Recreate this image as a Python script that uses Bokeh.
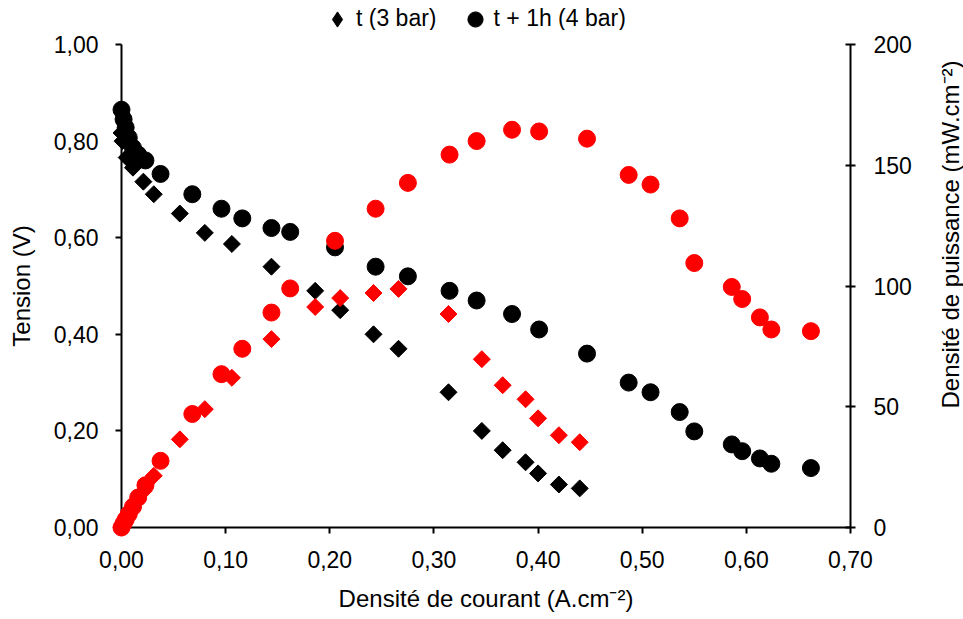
import math
from bokeh.plotting import figure
from bokeh.layouts import column, row
from bokeh.models import (Range1d, LinearAxis, FixedTicker, CustomJSTickFormatter,
                          Legend, LegendItem, Label)
from bokeh.embed import file_html
from bokeh.resources import INLINE

# ---- data ----
# t (3 bar)
current_3bar = [0.000, 0.001, 0.005, 0.011, 0.021, 0.031, 0.056, 0.080, 0.106, 0.144,
                0.186, 0.210, 0.242, 0.266, 0.314, 0.346, 0.366, 0.388, 0.400, 0.420, 0.440]
tension_3bar = [0.817, 0.800, 0.766, 0.745, 0.716, 0.690, 0.650, 0.610, 0.587, 0.540,
                0.490, 0.450, 0.400, 0.370, 0.280, 0.200, 0.160, 0.135, 0.112, 0.089, 0.081]
power_3bar = [0.0, 0.8, 3.8, 8.2, 15.0, 21.4, 36.5, 49.0, 62.0, 78.0,
              91.3, 95.0, 97.1, 98.8, 88.4, 69.7, 58.9, 53.1, 45.2, 38.2, 35.3]

# t + 1h (4 bar)
current_4bar = [0.000, 0.002, 0.004, 0.007, 0.011, 0.016, 0.023, 0.0375, 0.068, 0.096,
                0.116, 0.144, 0.162, 0.205, 0.244, 0.275, 0.315, 0.341, 0.375, 0.401,
                0.447, 0.487, 0.508, 0.536, 0.550, 0.586, 0.596, 0.613, 0.624, 0.662]
tension_4bar = [0.865, 0.845, 0.828, 0.807, 0.786, 0.772, 0.760, 0.732, 0.690, 0.660,
                0.640, 0.620, 0.612, 0.580, 0.540, 0.520, 0.490, 0.470, 0.442, 0.410,
                0.360, 0.300, 0.280, 0.239, 0.199, 0.172, 0.158, 0.143, 0.132, 0.123]
power_4bar = [0.0, 1.7, 3.3, 5.6, 8.6, 12.4, 17.5, 27.6, 47.0, 63.5,
              74.0, 89.0, 99.0, 118.7, 132.0, 142.7, 154.4, 160.0, 164.7, 164.0,
              161.0, 146.0, 142.0, 128.0, 109.5, 99.6, 94.6, 87.0, 82.0, 81.3]

x_ticks = [0.0, 0.1, 0.2, 0.3, 0.4, 0.5, 0.6, 0.7]
tension_ticks = [0.0, 0.2, 0.4, 0.6, 0.8, 1.0]
power_ticks = [0, 50, 100, 150, 200]
legend_labels = ["t (3 bar)", "t + 1h (4 bar)"]

x_title = "Densité de courant (A.cm⁻²)"
left_title = "Tension (V)"
right_title = "Densité de puissance (mW.cm⁻²)"

# ---- styling ----
FONT = "Liberation Sans"
FS = "23px"
FS_TITLE = "24px"
LEG_H = 30          # height of the legend strip above the chart
MAIN_W = 914        # width of the chart; the rest holds the right-hand title
TOTAL_W, TOTAL_H = 963, 619


def bare_figure(w, h, yr=(0, 1)):
    f = figure(width=w, height=h, output_backend="svg", toolbar_location=None,
               x_range=Range1d(0, 1), y_range=Range1d(*yr),
               x_axis_location=None, y_axis_location=None, min_border=0)
    f.outline_line_color = None
    f.background_fill_color = "white"
    f.border_fill_color = "white"
    for g in f.grid:
        g.visible = False
    return f


# ---------------- main chart ----------------
p = figure(width=MAIN_W, height=TOTAL_H - LEG_H, output_backend="svg", toolbar_location=None,
           x_range=Range1d(0, 0.7), y_range=Range1d(0, 1.0),
           min_border_left=121, min_border_right=MAIN_W - 850,
           min_border_top=44 - LEG_H, min_border_bottom=92)
p.extra_y_ranges = {"power": Range1d(0, 200)}
p.outline_line_color = None
p.xgrid.grid_line_color = None
p.ygrid.grid_line_color = None
p.background_fill_color = "white"
p.border_fill_color = "white"

comma2 = CustomJSTickFormatter(code="return tick.toFixed(2).replace('.', ',');")

right_axis = LinearAxis(y_range_name="power")
p.add_layout(right_axis, "right")


def style_axis(ax, ticks, label, tick_in, tick_out, standoff, title_standoff, fmt=None):
    ax.ticker = FixedTicker(ticks=ticks)
    if fmt is not None:
        ax.formatter = fmt
    ax.axis_label = label
    ax.axis_label_text_font = FONT
    ax.axis_label_text_font_size = FS_TITLE
    ax.axis_label_text_font_style = "normal"
    ax.axis_label_text_color = "black"
    ax.axis_label_standoff = title_standoff
    ax.major_label_text_font = FONT
    ax.major_label_text_font_size = FS
    ax.major_label_text_color = "black"
    ax.major_label_standoff = standoff
    ax.axis_line_color = "black"
    ax.axis_line_width = 2
    ax.major_tick_line_color = "black"
    ax.major_tick_line_width = 2
    ax.major_tick_in = tick_in
    ax.major_tick_out = tick_out
    ax.minor_tick_line_color = None


style_axis(p.xaxis[0], x_ticks, x_title, 0, 6, 17, 14, comma2)
style_axis(p.yaxis[0], tension_ticks, left_title, 0, 6, 17, 16, comma2)
style_axis(right_axis, power_ticks, None, 5, 5, 18, 0)

p.scatter(current_3bar, tension_3bar, marker="square", angle=math.pi / 4, size=12,
          fill_color="black", line_color="black", level="overlay")
p.scatter(current_4bar, tension_4bar, marker="circle", size=17,
          fill_color="black", line_color="black", level="overlay")
p.scatter(current_3bar, power_3bar, y_range_name="power", marker="square",
          angle=math.pi / 4, size=12, fill_color="red", line_color="red", level="overlay")
p.scatter(current_4bar, power_4bar, y_range_name="power", marker="circle", size=17,
          fill_color="red", line_color="red", level="overlay")

# ---------------- legend strip (top) ----------------
lf = bare_figure(TOTAL_W, LEG_H, yr=(5, 6))   # its range keeps the key renderers' points out of view
key_3bar = lf.scatter(current_3bar, tension_3bar, marker="diamond",
                      fill_color="black", line_color="black")
key_4bar = lf.scatter(current_4bar, tension_4bar, marker="circle",
                      fill_color="black", line_color="black")
legend = Legend(items=[LegendItem(label=legend_labels[0], renderers=[key_3bar]),
                       LegendItem(label=legend_labels[1], renderers=[key_4bar])],
                location=(318, -7.5), orientation="horizontal",
                border_line_color=None, background_fill_alpha=0,
                padding=0, margin=0, spacing=19,
                glyph_width=38, glyph_height=38, label_standoff=0,
                label_text_font=FONT, label_text_font_size=FS, label_text_color="black")
lf.add_layout(legend, "center")

# ---------------- right-hand title strip ----------------
# (its plotting frame is aligned with the chart's frame by the row layout)
rf = bare_figure(TOTAL_W - MAIN_W, TOTAL_H - LEG_H)
rf.add_layout(Label(x=36, y=293, x_units="screen", y_units="screen",
                    angle=math.pi / 2, text=right_title,
                    text_font=FONT, text_font_size=FS_TITLE, text_color="black",
                    text_align="center", text_baseline="middle"))

layout = column(lf, row(p, rf, spacing=0), spacing=0)

open("out.html", "w").write(file_html(layout, INLINE))
